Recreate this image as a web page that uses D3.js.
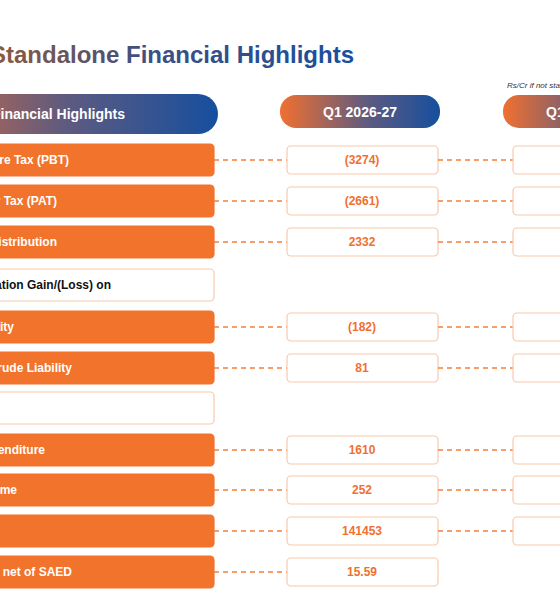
<!DOCTYPE html><html><head><meta charset="utf-8"><script src="https://cdn.jsdelivr.net/npm/d3@7"></script>
<style>body{margin:0;background:#fff}</style></head><body><svg id="c" width="560" height="600"></svg>
<script>
const labels=["Profit Before Tax (PBT)","Profit After Tax (PAT)","Dividend Distribution","Inventory Valuation Gain/(Loss) on","Inventory/Crude Liability","Forex Gain/(Loss) on Crude Liability","","Capital Expenditure","Other Income","Borrowings","GRM ($/bbl) – net of SAED"];
const labelEnds=[69,57,57,111,14,72,0,45,17,0,72];
const filled=[1,1,1,0,1,1,0,1,1,1,1];
const q1=["(3274)","(2661)","2332",null,"(182)","81",null,"1610","252","141453","15.59"];
const q2has=[1,1,1,0,1,1,0,1,1,1,0];
const rowCenters=[160,201,242,285,327,368,408,450,490,531,572];
const svg=d3.select("#c");
const defs=svg.append("defs");
const g=defs.append("linearGradient").attr("id","gr");
g.append("stop").attr("offset","0%").attr("stop-color","#f07030");
g.append("stop").attr("offset","55%").attr("stop-color","#5e5a80");
g.append("stop").attr("offset","100%").attr("stop-color","#164f9e");
const tg=defs.append("linearGradient").attr("id","tg").attr("gradientUnits","userSpaceOnUse").attr("x1",0).attr("x2",360);
tg.append("stop").attr("offset","0%").attr("stop-color","#8a5a40");
tg.append("stop").attr("offset","40%").attr("stop-color","#3f4f80");
tg.append("stop").attr("offset","100%").attr("stop-color","#164f9e");
const F="Liberation Sans, Arial, sans-serif";
svg.append("text").attr("x",354).attr("y",63).attr("text-anchor","end").attr("font-family",F).attr("font-weight","bold").attr("font-size",24).attr("fill","url(#tg)").text("Q1 2026-27 Standalone Financial Highlights");
svg.append("text").attr("x",507).attr("y",88).attr("font-family",F).attr("font-style","italic").attr("font-size",8).attr("fill","#333").text("Rs/Cr if not stated otherwise");
// headers
svg.append("rect").attr("x",-120).attr("y",94).attr("width",338).attr("height",40).attr("rx",20).attr("fill","url(#gr)");
svg.append("text").attr("x",125).attr("y",119).attr("text-anchor","end").attr("font-family",F).attr("font-weight","bold").attr("font-size",14).attr("fill","#fff").text("Standalone Financial Highlights");
svg.append("rect").attr("x",280).attr("y",95).attr("width",160).attr("height",33).attr("rx",16).attr("fill","url(#gr)");
svg.append("text").attr("x",360).attr("y",117).attr("text-anchor","middle").attr("font-family",F).attr("font-weight","bold").attr("font-size",14).attr("fill","#fff").text("Q1 2026-27");
svg.append("rect").attr("x",503).attr("y",95).attr("width",160).attr("height",33).attr("rx",16).attr("fill","url(#gr)");
svg.append("text").attr("x",583).attr("y",117).attr("text-anchor","middle").attr("font-family",F).attr("font-weight","bold").attr("font-size",14).attr("fill","#fff").text("Q1 2025-26");
const rows=svg.selectAll("g.r").data(labels.map((l,i)=>({l,i}))).join("g");
rows.append("rect").attr("x",-200).attr("y",d=>rowCenters[d.i]-16).attr("width",414).attr("height",32).attr("rx",4)
 .attr("fill",d=>filled[d.i]?"#f2732c":"#fff").attr("stroke",d=>filled[d.i]?"#f2732c":"#f8c9aa").attr("stroke-width",1.2);
rows.append("text").attr("x",d=>labelEnds[d.i]).attr("y",d=>rowCenters[d.i]+4).attr("text-anchor","end").attr("font-family",F).attr("font-weight","bold").attr("font-size",12)
 .attr("fill",d=>filled[d.i]?"#fff":"#111").text(d=>d.l);
rows.filter(d=>q1[d.i]!==null).each(function(d){
 const s=d3.select(this),y=rowCenters[d.i];
 s.append("line").attr("x1",214).attr("x2",287).attr("y1",y).attr("y2",y).attr("stroke","#f2803e").attr("stroke-width",1.5).attr("stroke-dasharray","5,4");
 s.append("rect").attr("x",287).attr("y",y-14).attr("width",151).attr("height",28).attr("rx",4).attr("fill","#fff").attr("stroke","#f8c9aa").attr("stroke-width",1.2);
 s.append("text").attr("x",362).attr("y",y+4).attr("text-anchor","middle").attr("font-family",F).attr("font-weight","bold").attr("font-size",12).attr("fill","#f07030").text(q1[d.i]);
 if(q2has[d.i]){
  s.append("line").attr("x1",438).attr("x2",513).attr("y1",y).attr("y2",y).attr("stroke","#f2803e").attr("stroke-width",1.5).attr("stroke-dasharray","5,4");
  s.append("rect").attr("x",513).attr("y",y-14).attr("width",151).attr("height",28).attr("rx",4).attr("fill","#fff").attr("stroke","#f8c9aa").attr("stroke-width",1.2);
 }
});
</script></body></html>
